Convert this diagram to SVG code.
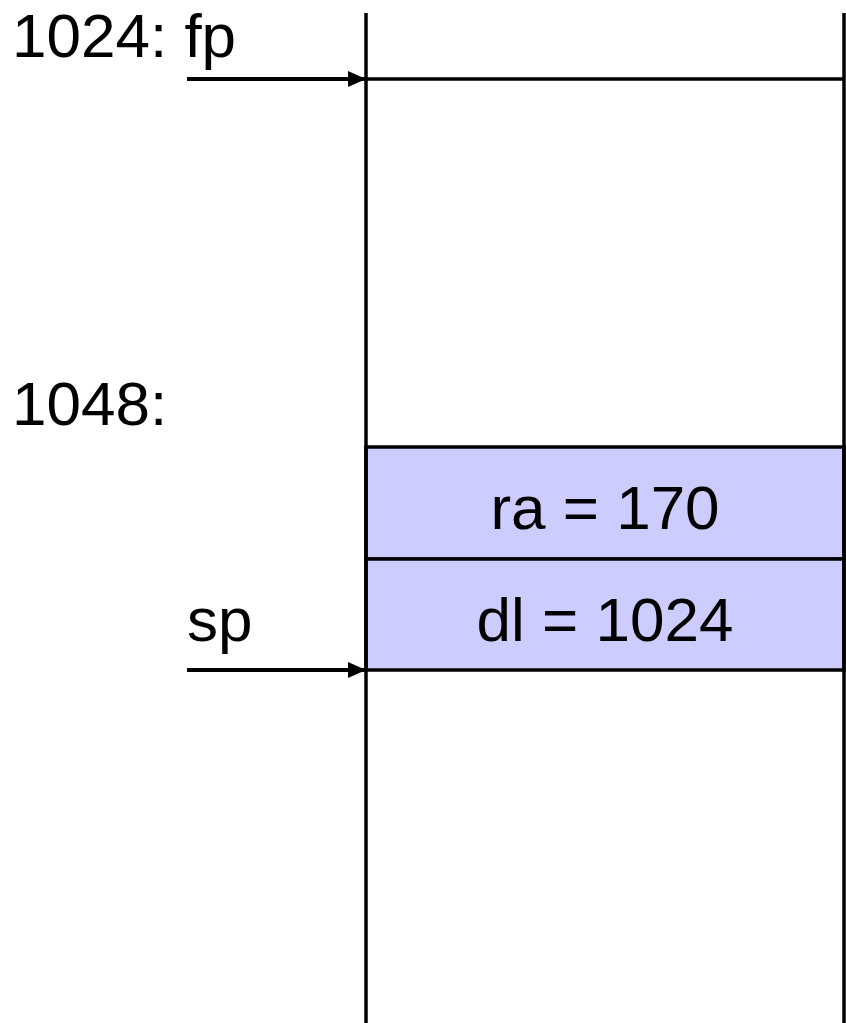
<svg xmlns="http://www.w3.org/2000/svg" width="846" height="1023" viewBox="0 0 846 1023">
<style>
text{font-family:"Liberation Sans",Arial,sans-serif;font-size:62px;fill:#000}
.ln{stroke:#000;stroke-width:3.5;fill:none}
.cell{fill:#ccccff;stroke:#000;stroke-width:3.5}
</style>
<defs>
<marker id="ah" markerUnits="userSpaceOnUse" markerWidth="20" markerHeight="18" refX="18" refY="8" orient="auto">
<path d="M0,0 L18,8 L0,16 Z" fill="#000"/>
</marker>
</defs>
<rect width="846" height="1023" fill="#fff"/>
<g id="cells">
<rect class="cell" x="366" y="447" width="478" height="112"/>
<rect class="cell" x="366" y="559" width="478" height="111"/>
</g>
<g id="frame">
<line class="ln" x1="366" y1="13" x2="366" y2="1023"/>
<line class="ln" x1="844" y1="13" x2="844" y2="1023"/>
<line class="ln" x1="366" y1="79" x2="844" y2="79"/>
</g>
<g id="labels">
<text x="12" y="57">1024: fp</text>
<text x="12" y="425">1048:</text>
<text x="187" y="641">sp</text>
<text x="605" y="529" text-anchor="middle">ra = 170</text>
<text x="605" y="641" text-anchor="middle">dl = 1024</text>
</g>
<g id="connectors">
<line x1="187" y1="79" x2="366" y2="79" stroke="#000" stroke-width="4" marker-end="url(#ah)"/>
<line x1="187" y1="670" x2="366" y2="670" stroke="#000" stroke-width="4" marker-end="url(#ah)"/>
</g>
</svg>
